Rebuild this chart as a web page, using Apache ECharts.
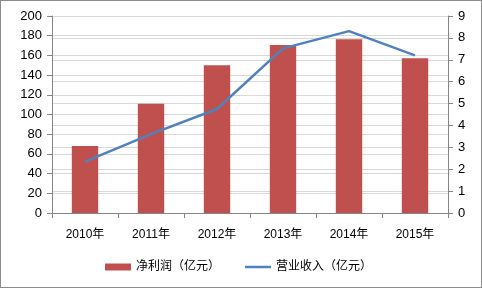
<!DOCTYPE html>
<html><head><meta charset="utf-8">
<script src="https://cdn.jsdelivr.net/npm/echarts@6/dist/echarts.min.js"></script>
<style>html,body{margin:0;padding:0;background:#fff}#c{width:480px;height:286px;border:1px solid #8c8c8c}</style>
</head><body><div id="c"></div>
<script>
const categories = ['2010年','2011年','2012年','2013年','2014年','2015年'];
const netProfit = [68, 111, 150, 170.5, 176.5, 157];
const revenue = [2.35, 3.6, 4.75, 7.52, 8.31, 7.2];
const leftTicks = [0, 200, 20];
const rightTicks = [0, 9, 1];
const font = '"Liberation Sans","Noto Sans CJK SC",sans-serif';
const chart = echarts.init(document.getElementById('c'));
chart.setOption({
  animation: false,
  textStyle: {fontFamily: font},
  grid: {left: 51, right: 33, top: 15, bottom: 74, containLabel: false},
  legend: {
    top: 260, left: 104, padding: 0, itemGap: 25, itemWidth: 26, itemHeight: 7,
    textStyle: {fontSize: 12, color: '#000', fontFamily: font},
    data: [{name: '净利润（亿元）', icon: 'rect'}, {name: '营业收入（亿元）', icon: 'path://M0,0L26,0L26,2.5L0,2.5Z'}]
  },
  xAxis: {
    type: 'category', data: categories, boundaryGap: true,
    axisLine: {lineStyle: {color: '#868686'}},
    axisTick: {show: true, length: 5, lineStyle: {color: '#868686'}},
    axisLabel: {color: '#000', fontSize: 12, margin: 16}
  },
  yAxis: [
    {type: 'value', min: leftTicks[0], max: leftTicks[1], interval: leftTicks[2],
     axisLine: {show: true, lineStyle: {color: '#868686'}},
     axisTick: {show: true, length: 5, lineStyle: {color: '#868686'}},
     axisLabel: {color: '#000', fontSize: 13, margin: 10},
     splitLine: {lineStyle: {color: '#d9d9d9'}}},
    {type: 'value', min: rightTicks[0], max: rightTicks[1], interval: rightTicks[2], position: 'right',
     axisLine: {show: true, lineStyle: {color: '#868686'}},
     axisTick: {show: true, length: 5, lineStyle: {color: '#868686'}},
     axisLabel: {color: '#000', fontSize: 13, margin: 10},
     splitLine: {lineStyle: {color: '#d9d9d9'}}}
  ],
  series: [
    {name: '净利润（亿元）', type: 'bar', data: netProfit, barWidth: '40%',
     itemStyle: {color: '#c0504d'}},
    {name: '营业收入（亿元）', type: 'line', yAxisIndex: 1, data: revenue,
     symbol: 'none', lineStyle: {color: '#4f81bd', width: 2.5}, itemStyle: {color: '#4f81bd'}}
  ]
});
</script></body></html>
